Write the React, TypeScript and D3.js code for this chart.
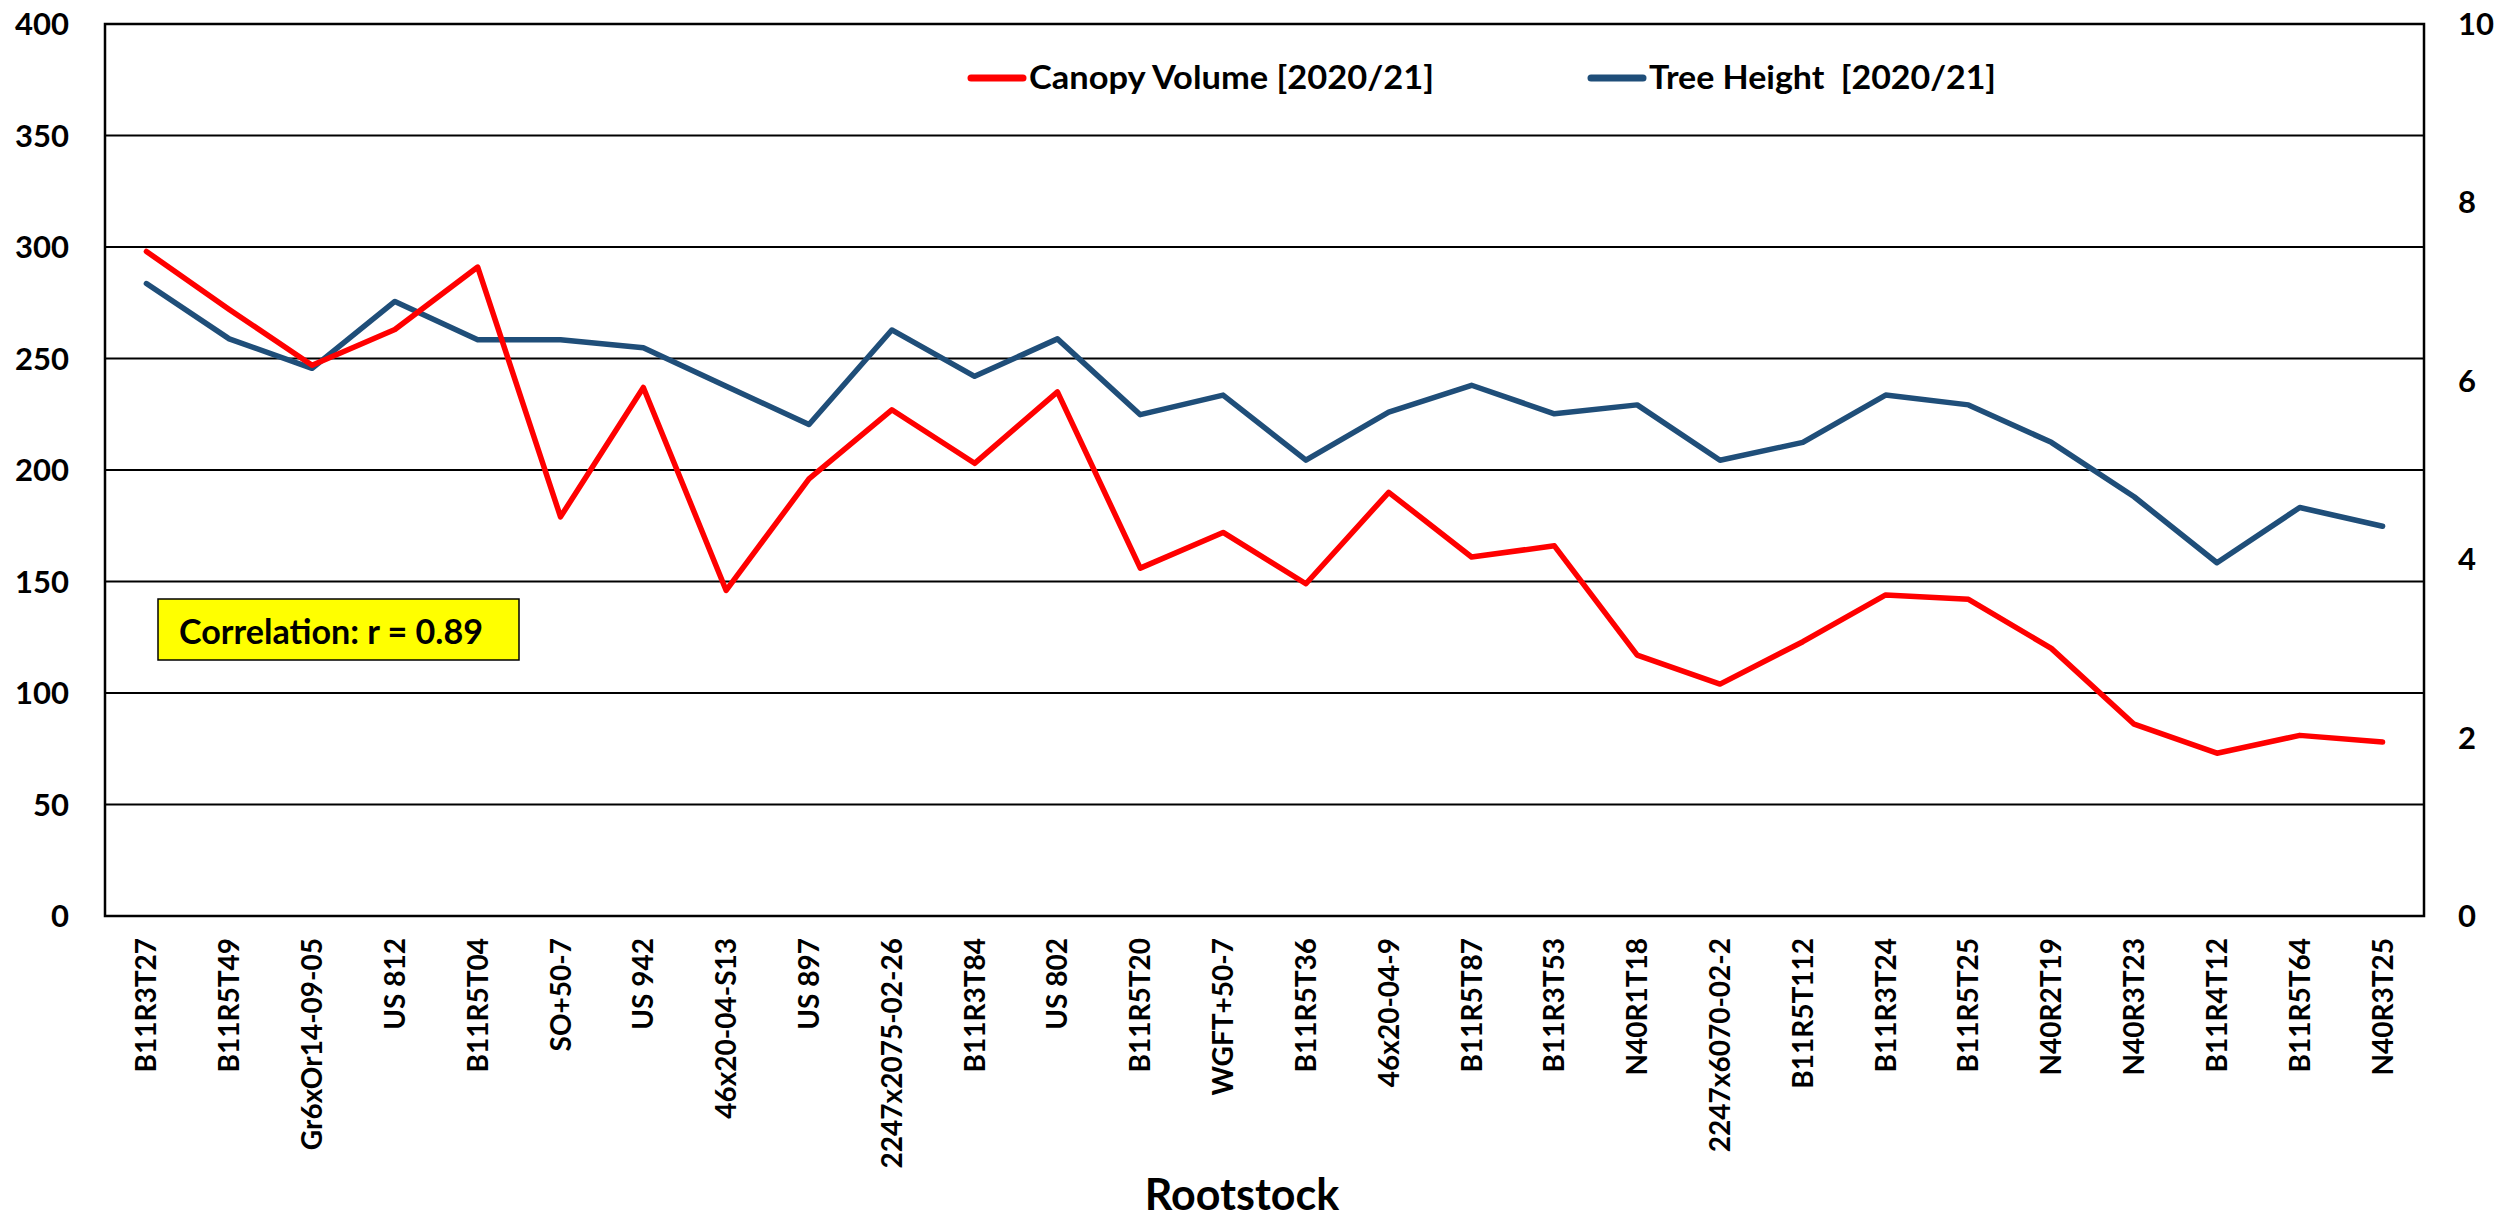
import React from 'react';
import * as d3 from 'd3';

const rootstocks = [
  'B11R3T27', 'B11R5T49', 'Gr6xOr14-09-05', 'US 812', 'B11R5T04', 'SO+50-7', 'US 942',
  '46x20-04-S13', 'US 897', '2247x2075-02-26', 'B11R3T84', 'US 802', 'B11R5T20', 'WGFT+50-7',
  'B11R5T36', '46x20-04-9', 'B11R5T87', 'B11R3T53', 'N40R1T18', '2247x6070-02-2', 'B11R5T112',
  'B11R3T24', 'B11R5T25', 'N40R2T19', 'N40R3T23', 'B11R4T12', 'B11R5T64', 'N40R3T25',
];

// canopy volume, left axis
const canopyVolume = [
  298, 272, 247, 263, 291, 179, 237, 146, 196, 227, 203, 235, 156, 172,
  149, 190, 161, 166, 117, 104, 123, 144, 142, 120, 86, 73, 81, 78,
];

// tree height, right axis
const treeHeight = [
  7.09, 6.47, 6.14, 6.89, 6.46, 6.46, 6.37, 5.94, 5.51, 6.57, 6.05, 6.47, 5.62, 5.84,
  5.11, 5.65, 5.95, 5.63, 5.73, 5.11, 5.31, 5.84, 5.73, 5.31, 4.70, 3.96, 4.58, 4.37,
];

const leftTicks = [0, 50, 100, 150, 200, 250, 300, 350, 400];
const rightTicks = [0, 2, 4, 6, 8, 10];

const seriesNames = ['Canopy Volume [2020/21]', 'Tree Height  [2020/21]'];
const correlationText = 'Correlation: r = 0.89';
const xTitle = 'Rootstock';

const W = 2504;
const H = 1221;
const margin = { top: 24, right: 80, bottom: 305, left: 105 };
const RED = '#FF0000';
const BLUE = '#1F4E79';
const FONT = 'Lato, "Open Sans", sans-serif';

export default function App() {
  const x0 = margin.left;
  const x1 = W - margin.right;
  const y0 = margin.top;
  const y1 = H - margin.bottom;

  const x = d3.scaleBand<string>().domain(rootstocks).range([x0, x1]);
  const cx = (d: string) => (x(d) || 0) + x.bandwidth() / 2;
  const yL = d3.scaleLinear().domain([0, 400]).range([y1, y0]);
  const yR = d3.scaleLinear().domain([0, 10]).range([y1, y0]);

  const lineL = d3.line<number>().x((_, i) => cx(rootstocks[i])).y(d => yL(d));
  const lineR = d3.line<number>().x((_, i) => cx(rootstocks[i])).y(d => yR(d));

  return (
    <svg width={W} height={H} style={{ position: 'absolute', left: 0, top: 0, background: '#fff' }}
      fontFamily={FONT} fontWeight="bold">
      {/* gridlines */}
      {leftTicks.map(t => (
        <line key={'g' + t} x1={x0} x2={x1} y1={yL(t)} y2={yL(t)} stroke="#000" strokeWidth={2} />
      ))}
      <rect x={x0} y={y0} width={x1 - x0} height={y1 - y0} fill="none" stroke="#000" strokeWidth={2.5} />

      {/* left axis labels */}
      {leftTicks.map(t => (
        <text key={'l' + t} x={69} y={yL(t) + 11} textAnchor="end" fontSize={31}>{t}</text>
      ))}
      {/* right axis labels */}
      {rightTicks.map(t => (
        <text key={'r' + t} x={2458} y={yR(t) + 11} textAnchor="start" fontSize={31}>{t}</text>
      ))}

      {/* x labels */}
      {rootstocks.map(r => (
        <text key={r} transform={`translate(${cx(r) + 10},938) rotate(-90)`} textAnchor="end" fontSize={28}>{r}</text>
      ))}

      <text x={1242} y={1210} textAnchor="middle" fontSize={43}>{xTitle}</text>

      {/* series */}
      <path d={lineR(treeHeight) || ''} fill="none" stroke={BLUE} strokeWidth={5.5} strokeLinejoin="round" strokeLinecap="round" />
      <path d={lineL(canopyVolume) || ''} fill="none" stroke={RED} strokeWidth={5.5} strokeLinejoin="round" strokeLinecap="round" />

      {/* legend */}
      <line x1={971} x2={1023} y1={78} y2={78} stroke={RED} strokeWidth={7} strokeLinecap="round" />
      <text x={1029} y={89} fontSize={32} textLength={405} lengthAdjust="spacingAndGlyphs">{seriesNames[0]}</text>
      <line x1={1591} x2={1643} y1={78} y2={78} stroke={BLUE} strokeWidth={7} strokeLinecap="round" />
      <text x={1649} y={89} fontSize={32} textLength={347} lengthAdjust="spacingAndGlyphs" style={{ whiteSpace: 'pre' }}>{seriesNames[1]}</text>

      {/* correlation box */}
      <rect x={158} y={599} width={361} height={61} fill="#FFFF00" stroke="#000" strokeWidth={1.5} />
      <text x={179} y={644} fontSize={34} textLength={304} lengthAdjust="spacingAndGlyphs">{correlationText}</text>
    </svg>
  );
}
